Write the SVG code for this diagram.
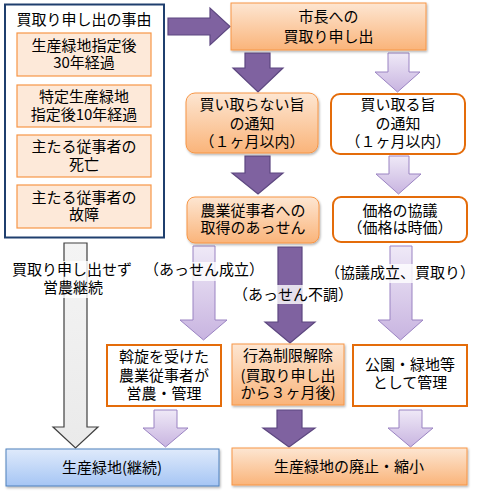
<svg xmlns="http://www.w3.org/2000/svg" width="485" height="496" viewBox="0 0 485 496">
<defs>
<linearGradient id="gOrange" x1="0" y1="0" x2="0" y2="1">
<stop offset="0" stop-color="#fde6d2"/>
<stop offset="1" stop-color="#fab47a"/>
</linearGradient>
<linearGradient id="gBlue" x1="0" y1="0" x2="0" y2="1">
<stop offset="0" stop-color="#dfeafb"/>
<stop offset="1" stop-color="#a5c5f4"/>
</linearGradient>
<linearGradient id="gLav" x1="0" y1="0" x2="0" y2="1">
<stop offset="0" stop-color="#efe9f7"/>
<stop offset="1" stop-color="#c8b4e0"/>
</linearGradient>
<linearGradient id="gGray" x1="0" y1="0" x2="0" y2="1">
<stop offset="0" stop-color="#f4f4f4"/>
<stop offset="1" stop-color="#eaeaea"/>
</linearGradient>
<filter id="sh" x="-10%" y="-10%" width="120%" height="130%">
<feDropShadow dx="1" dy="1.5" stdDeviation="1" flood-color="#000" flood-opacity="0.3"/>
</filter>
</defs>
<style>
text{font-family:"Noto Sans CJK JP","Noto Sans",sans-serif;font-size:15px;fill:#000;text-anchor:middle}
.sub{fill:#fde9d9;stroke:#f79646;stroke-width:1.2}
.og{fill:url(#gOrange);stroke:#f79646;stroke-width:1;filter:url(#sh)}
.wb{fill:#fff;stroke:#e46c0a;stroke-width:2}
.dk{fill:#7f62a0;stroke:#5d4780;stroke-width:1.2}
.lt{fill:url(#gLav);stroke:#9a83c2;stroke-width:1}
.gr{fill:url(#gGray);stroke:#404040;stroke-width:1.2}
.bg{fill:#fff;opacity:0.8}
</style>

<g id="connectors">
<polygon class="dk" points="168,18 210,18 210,8 230,26.5 210,45 210,35 168,35"/>
<polygon class="dk" points="245,53 270,53 270,68 283,68 258,92 233,68 245,68"/>
<polygon class="lt" points="388,53 409,53 409,72 420,72 397.5,92 375,72 388,72"/>
<polygon class="dk" points="245,156 270,156 270,173 283,173 258,194 232,173 245,173"/>
<polygon class="lt" points="389,156 409,156 409,174 421,174 398.5,194 376,174 389,174"/>
<polygon class="gr" points="64,243 87,243 87,427 98,427 75.5,448 53,427 64,427"/>
<polygon class="lt" points="193,246 215,246 215,320 227,320 203.5,340 180,320 193,320"/>
<polygon class="dk" points="278,247 302,247 302,322 315,322 290,343 265,322 278,322"/>
<polygon class="lt" points="390,246 412,246 412,320 423,320 400.5,340 378,320 390,320"/>
<polygon class="lt" points="154,410 177,410 177,428 188,428 165.5,447 143,428 154,428"/>
<polygon class="dk" points="277,410 302,410 302,428 315,428 289,447 263,428 277,428"/>
<polygon class="lt" points="399,410 422,410 422,428 433,428 410.5,447 388,428 399,428"/>
<rect class="bg" x="12" y="261" width="121" height="37"/>
<text x="72" y="275">買取り申し出せず</text>
<text x="73" y="293">営農継続</text>
<rect class="bg" x="150" y="262" width="108" height="19"/>
<text x="204" y="275">（あっせん成立）</text>
<rect class="bg" x="240" y="285" width="107" height="19"/>
<text x="293" y="300">（あっせん不調）</text>
<rect class="bg" x="332" y="264" width="137" height="19"/>
<text x="400" y="278">（協議成立、買取り）</text>
</g>

<g id="reasons">
<rect x="5" y="4.5" width="159" height="233" fill="#fff" stroke="#1f3f6e" stroke-width="2"/>
<text x="84" y="25">買取り申し出の事由</text>
</g>
<g id="reason1">
<rect class="sub" x="17" y="33" width="134" height="43"/>
<text x="84" y="51">生産緑地指定後</text>
<text x="84" y="68">30年経過</text>
</g>
<g id="reason2">
<rect class="sub" x="17" y="85" width="134" height="42"/>
<text x="84" y="102">特定生産緑地</text>
<text x="84" y="120">指定後10年経過</text>
</g>
<g id="reason3">
<rect class="sub" x="17" y="135" width="134" height="42"/>
<text x="84" y="152">主たる従事者の</text>
<text x="84" y="170">死亡</text>
</g>
<g id="reason4">
<rect class="sub" x="17" y="185" width="134" height="43"/>
<text x="84" y="203">主たる従事者の</text>
<text x="84" y="220">故障</text>
</g>

<g id="request">
<rect class="og" x="231" y="3" width="195" height="47"/>
<text x="328.5" y="22">市長への</text>
<text x="328.5" y="42">買取り申し出</text>
</g>
<g id="notbuy">
<rect class="og" x="186" y="93" width="132" height="60" rx="9"/>
<text x="252" y="110">買い取らない旨</text>
<text x="252" y="129">の通知</text>
<text x="252" y="147">（１ヶ月以内）</text>
</g>
<g id="buy">
<rect class="wb" x="331" y="94" width="134" height="60" rx="9"/>
<text x="398" y="110">買い取る旨</text>
<text x="398" y="129">の通知</text>
<text x="398" y="147">（１ヶ月以内）</text>
</g>
<g id="mediation">
<rect class="og" x="187" y="197" width="132" height="46" rx="8"/>
<text x="253" y="216">農業従事者への</text>
<text x="253" y="233">取得のあっせん</text>
</g>
<g id="price">
<rect class="wb" x="333" y="197" width="134" height="45" rx="8"/>
<text x="400" y="216">価格の協議</text>
<text x="400" y="233">（価格は時価）</text>
</g>
<g id="farmer">
<rect class="wb" x="107" y="345" width="114" height="61"/>
<text x="164" y="362">斡旋を受けた</text>
<text x="164" y="381">農業従事者が</text>
<text x="164" y="399">営農・管理</text>
</g>
<g id="release">
<rect class="og" x="232" y="344" width="112" height="61"/>
<text x="288" y="361">行為制限解除</text>
<text x="288" y="381">(買取り申し出</text>
<text x="288" y="398">から３ヶ月後)</text>
</g>
<g id="park">
<rect class="wb" x="353" y="345" width="114" height="61"/>
<text x="410" y="370">公園・緑地等</text>
<text x="410" y="388">として管理</text>
</g>
<g id="continue">
<rect x="6" y="449" width="213" height="37" fill="url(#gBlue)" stroke="#4f81bd" stroke-width="1" filter="url(#sh)"/>
<text x="112" y="473">生産緑地(継続)</text>
</g>
<g id="abolish">
<rect class="og" x="232" y="448" width="235" height="37"/>
<text x="349" y="472">生産緑地の廃止・縮小</text>
</g>
</svg>
